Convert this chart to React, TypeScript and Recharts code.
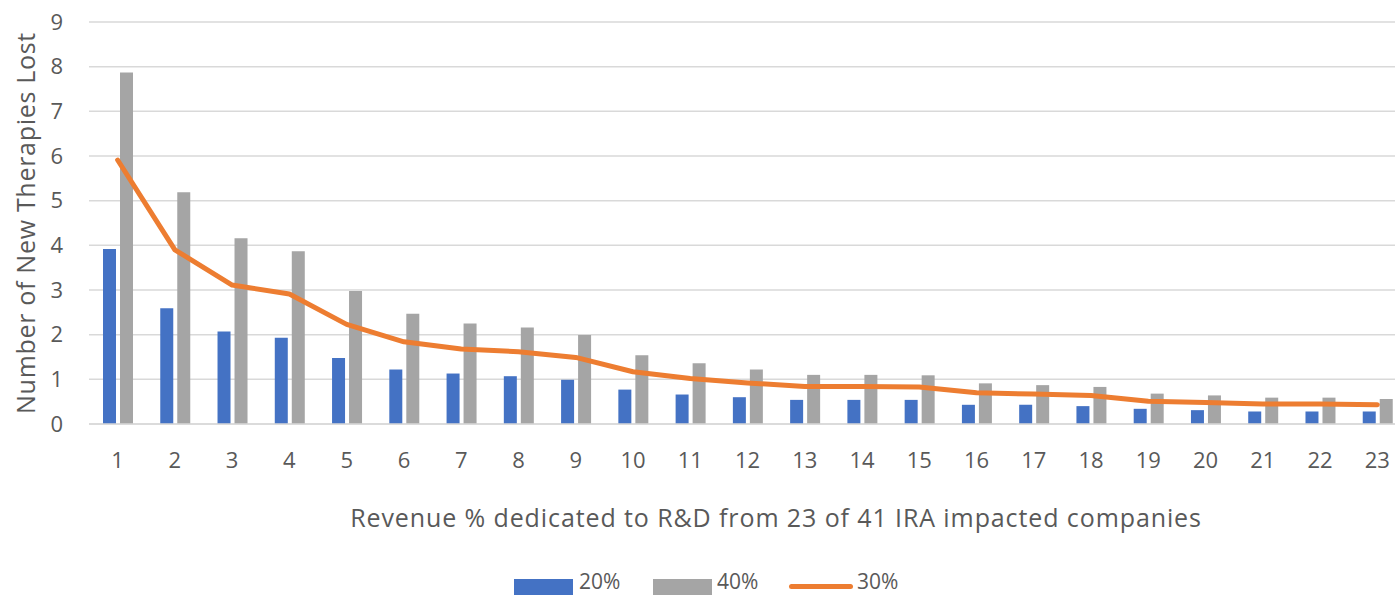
import React from 'react';
import { ComposedChart, Bar, Line, XAxis, YAxis, CartesianGrid } from 'recharts';

const categories = ['1','2','3','4','5','6','7','8','9','10','11','12','13','14','15','16','17','18','19','20','21','22','23'];
const series20 = [3.92, 2.59, 2.07, 1.93, 1.48, 1.22, 1.13, 1.07, 0.99, 0.77, 0.66, 0.6, 0.54, 0.54, 0.54, 0.43, 0.43, 0.4, 0.34, 0.31, 0.28, 0.28, 0.28];
const series40 = [7.87, 5.19, 4.16, 3.87, 2.98, 2.47, 2.25, 2.16, 1.99, 1.54, 1.36, 1.22, 1.1, 1.1, 1.09, 0.91, 0.87, 0.83, 0.68, 0.64, 0.59, 0.59, 0.56];
const series30 = [5.91, 3.9, 3.11, 2.91, 2.23, 1.84, 1.68, 1.62, 1.49, 1.17, 1.02, 0.92, 0.84, 0.84, 0.83, 0.7, 0.67, 0.64, 0.51, 0.48, 0.45, 0.45, 0.43];
const yTicks = [0, 1, 2, 3, 4, 5, 6, 7, 8, 9];

const data = categories.map((c, i) => ({ cat: c, s20: series20[i], s40: series40[i], s30: series30[i] }));

const FONT = '"Open Sans", "Segoe UI", sans-serif';
const TXT = '#595959';

export default function App() {
  return (
    <div style={{ position: 'absolute', left: 0, top: 0, width: 1395, height: 595, overflow: 'hidden', background: '#fff', fontFamily: FONT }}>
      <ComposedChart
        width={1420}
        height={595}
        data={data}
        margin={{ top: 22, right: 14, bottom: 0, left: 0 }}
        barSize={13}
        barGap={4}
      >
        <CartesianGrid vertical={false} stroke="#D9D9D9" strokeWidth={1.5} />
        <XAxis
          dataKey="cat"
          height={171}
          axisLine={{ stroke: '#D9D9D9', strokeWidth: 1.5 }}
          tickLine={false}
          tickMargin={22}
          tick={{ fill: TXT, fontSize: 22, fontFamily: FONT }}
          interval={0}
          label={{
            content: () => (
              <text x={776} y={527} textAnchor="middle" fill={TXT} fontSize={25} letterSpacing={0.9} fontFamily={FONT}>
                Revenue % dedicated to R&amp;D from 23 of 41 IRA impacted companies
              </text>
            ),
          }}
        />
        <YAxis
          width={89}
          domain={[0, 9]}
          ticks={yTicks}
          axisLine={false}
          tickLine={false}
          tickMargin={20}
          tick={{ fill: TXT, fontSize: 22, fontFamily: FONT }}
          label={{
            content: () => (
              <text x={35} y={223} textAnchor="middle" fill={TXT} fontSize={25} letterSpacing={0.7} fontFamily={FONT} transform="rotate(-90 35 223)">
                Number of New Therapies Lost
              </text>
            ),
          }}
        />
        <Bar dataKey="s20" name="20%" fill="#4472C4" isAnimationActive={false} />
        <Bar dataKey="s40" name="40%" fill="#A5A5A5" isAnimationActive={false} />
        <Line dataKey="s30" name="30%" type="linear" stroke="#ED7D31" strokeWidth={5} strokeLinecap="round" strokeLinejoin="round" dot={false} activeDot={false} isAnimationActive={false} />
      </ComposedChart>
      <div style={{ position: 'absolute', left: 0, top: 567, width: 1395, height: 28, color: TXT, fontSize: 21, fontFamily: FONT }}>
        <div style={{ position: 'absolute', left: 514, top: 12, width: 59, height: 16, background: '#4472C4' }} />
        <div style={{ position: 'absolute', left: 579, top: 0, lineHeight: '28px' }}>20%</div>
        <div style={{ position: 'absolute', left: 653, top: 12, width: 59, height: 16, background: '#A5A5A5' }} />
        <div style={{ position: 'absolute', left: 717, top: 0, lineHeight: '28px' }}>40%</div>
        <div style={{ position: 'absolute', left: 789, top: 17, width: 64, height: 5, borderRadius: 3, background: '#ED7D31' }} />
        <div style={{ position: 'absolute', left: 857, top: 0, lineHeight: '28px' }}>30%</div>
      </div>
    </div>
  );
}
